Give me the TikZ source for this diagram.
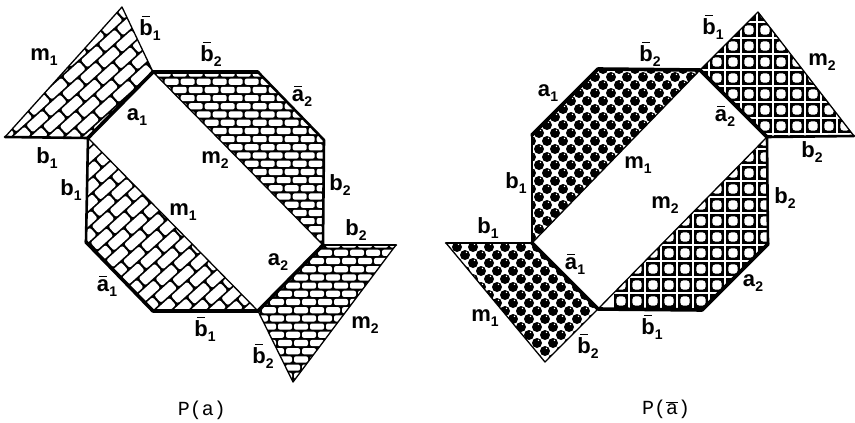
\documentclass[tikz,border=0pt]{standalone}
\usepackage{fontspec}
\setmainfont{Liberation Sans}
\newfontfamily\capfont{Liberation Mono}
\newcommand{\lab}[2]{\textbf{#1}\raisebox{-5pt}{\fontsize{14}{14}\selectfont\bfseries #2}}
\newcommand{\obar}[2][18pt]{\makebox[0pt][l]{\hspace{2.5pt}\raisebox{#1}{\rule{8pt}{1.5pt}}}\textbf{#2}}
% #1 polygon path, #2 angle, #3 centre, #4 pitch along, #5 pitch across, #6 brick length, #7 brick width
\newcommand{\brickfill}[7]{%
  \begin{scope}
    \clip #1;
    \fill[black] #1;
    \begin{scope}[shift={#3},rotate=#2]
      \foreach \j in {-22,...,22}{
        \pgfmathsetmacro{\off}{mod(abs(\j),2)*#4/2}
        \foreach \i in {-9,...,9}{
          \fill[white,rounded corners=2pt]
            ({\i*#4+\off-#6/2},{\j*#5-#7/2}) rectangle ++(#6,#7);
        }
      }
    \end{scope}
  \end{scope}}
\newcommand{\ballfill}[2]{%
  \begin{scope}
    \clip #1;
    \begin{scope}[shift={#2}]
      \foreach \j in {-15,...,15}{
        \pgfmathsetmacro{\off}{mod(abs(\j),2)*8}
        \foreach \i in {-7,...,7}{
          \fill[black] ({\i*16+\off},{\j*8}) circle (5pt);
          \fill[white] ({\i*16+\off+1.5},{\j*8-2.6}) circle (0.8pt);
        }
      }
    \end{scope}
  \end{scope}}
\newcommand{\squarefill}[2]{%
  \begin{scope}
    \clip #1;
    \begin{scope}[shift={#2}]
      \foreach \j in {-7,...,7}{
        \foreach \i in {-7,...,7}{
          \fill[black] ({\i*16-7.3},{\j*16-7.3}) rectangle ++(14.6,14.6);
          \fill[white,rounded corners=3pt] ({\i*16-4.6},{\j*16-4.6}) rectangle ++(9.2,9.2);
        }
      }
    \end{scope}
  \end{scope}}
\tikzset{
  thickedge/.style={line width=3.6pt,line cap=round,line join=round},
  midedge/.style={line width=2.6pt,line cap=round,line join=round},
  thinedge/.style={line width=1.3pt,line cap=round,line join=round},
  lbl/.style={font=\fontsize{22}{22}\selectfont,inner sep=0pt},
  captext/.style={font=\capfont\fontsize{20}{20}\selectfont,inner sep=0pt}
}
\begin{document}
\begin{tikzpicture}[x=1pt,y=-1pt]
\useasboundingbox (0,0) rectangle (855,423);
% Left octagon
\coordinate (A) at (153,72);
\coordinate (B) at (258,72);
\coordinate (C) at (324,140);
\coordinate (D) at (323,245);
\coordinate (E) at (258,311);
\coordinate (F) at (153,311);
\coordinate (G) at (86,242);
\coordinate (H) at (88,138);
\coordinate (T1) at (122,7);
\coordinate (T2) at (5,137);
\coordinate (T3) at (396,245);
\coordinate (T4) at (293,382);
\brickfill{(T1)--(A)--(H)--(T2)--cycle}{42}{(90,90)}{24}{11.7}{21.6}{9.8}
\brickfill{(H)--(E)--(F)--(G)--cycle}{42}{(170,225)}{24}{11.7}{21.6}{9.8}
\brickfill{(A)--(B)--(C)--(D)--cycle}{0}{(235.7,147.3)}{16}{8.2}{14}{6.2}
\brickfill{(D)--(T3)--(T4)--(E)--cycle}{0}{(325,302)}{16}{8.2}{14}{6.2}
\draw[thickedge] (H)--(A)--(B);
\draw[midedge] (B)--(C)--(D);
\draw[thickedge] (D)--(E)--(F)--(G);
\draw[midedge] (G)--(H);
\draw[midedge] (T2)--(H);
\draw[midedge] (D)--(T3);
\draw[thinedge] (T1)--(A);
\draw[thinedge] (T1)--(T2);
\draw[thinedge] (T3)--(T4)--(E);
\draw[thinedge] (A)--(D);
\draw[thinedge] (H)--(E);
% Right octagon
\coordinate (a) at (598,69);
\coordinate (b) at (700,70);
\coordinate (c) at (767,137);
\coordinate (d) at (768,244);
\coordinate (e) at (702,310);
\coordinate (f) at (598,309);
\coordinate (g) at (532,243);
\coordinate (h) at (532,135);
\coordinate (t1) at (758,12);
\coordinate (t2) at (854,136);
\coordinate (t3) at (446,243);
\coordinate (t4) at (545,362);
\ballfill{(a)--(b)--(g)--(h)--cycle}{(603,149)}
\ballfill{(g)--(f)--(t4)--(t3)--cycle}{(529,303)}
\squarefill{(t1)--(t2)--(c)--(b)--cycle}{(765,94)}
\squarefill{(c)--(d)--(e)--(f)--cycle}{(733,237)}
\draw[thickedge] (h)--(a)--(b)--(c);
\draw[midedge] (c)--(d);
\draw[thickedge] (d)--(e)--(f)--(g);
\draw[midedge] (g)--(h);
\draw[midedge] (t3)--(g);
\draw[midedge] (c)--(t2);
\draw[thinedge] (t1)--(b);
\draw[thinedge] (t1)--(t2);
\draw[thinedge] (t3)--(t4)--(f);
\draw[thinedge] (b)--(g);
\draw[thinedge] (c)--(f);
% Left labels
\node[lbl] (l1) at (44,57) {\lab{m}{1}};
\node[lbl] (l2) at (150,28) {\lab{\obar{b}}{1}};
\node[lbl] (l3) at (211,54) {\lab{\obar{b}}{2}};
\node[lbl] (l4) at (302,96) {\lab{\obar[14.5pt]{a}}{2}};
\node[lbl] (l5) at (137,117) {\lab{a}{1}};
\node[lbl] (l6) at (47,158) {\lab{b}{1}};
\node[lbl] (l7) at (71,190) {\lab{b}{1}};
\node[lbl] (l8) at (215,160) {\lab{m}{2}};
\node[lbl] (l9) at (183,212) {\lab{m}{1}};
\node[lbl] (l10) at (340,185) {\lab{b}{2}};
\node[lbl] (l11) at (356,230) {\lab{b}{2}};
\node[lbl] (l12) at (278,262) {\lab{a}{2}};
\node[lbl] (l13) at (365,325) {\lab{m}{2}};
\node[lbl] (l14) at (263,356) {\lab{\obar{b}}{2}};
\node[lbl] (l15) at (205,329) {\lab{\obar{b}}{1}};
\node[lbl] (l16) at (107,286) {\lab{\obar[14.5pt]{a}}{1}};
% Right labels
\node[lbl] (r1) at (650,54) {\lab{\obar{b}}{2}};
\node[lbl] (r2) at (548,93) {\lab{a}{1}};
\node[lbl] (r3) at (516,183) {\lab{b}{1}};
\node[lbl] (r4) at (638,165) {\lab{m}{1}};
\node[lbl] (r5) at (713,27) {\lab{\obar{b}}{1}};
\node[lbl] (r6) at (822,62) {\lab{m}{2}};
\node[lbl] (r7) at (725,116) {\lab{\obar[14.5pt]{a}}{2}};
\node[lbl] (r8) at (812,152) {\lab{b}{2}};
\node[lbl] (r9) at (785,198) {\lab{b}{2}};
\node[lbl] (r10) at (665,205) {\lab{m}{2}};
\node[lbl] (r11) at (488,228) {\lab{b}{1}};
\node[lbl] (r12) at (575,264) {\lab{\obar[14.5pt]{a}}{1}};
\node[lbl] (r13) at (485,318) {\lab{m}{1}};
\node[lbl] (r14) at (588,346) {\lab{\obar{b}}{2}};
\node[lbl] (r15) at (652,327) {\lab{\obar{b}}{1}};
\node[lbl] (r16) at (753,283) {\lab{a}{2}};
% Captions
\node[captext] (capL) at (202,410) {P(a)};
\node[captext] (capR) at (666,409) {P($\overline{\mbox{a}}$)};
\end{tikzpicture}
\end{document}
